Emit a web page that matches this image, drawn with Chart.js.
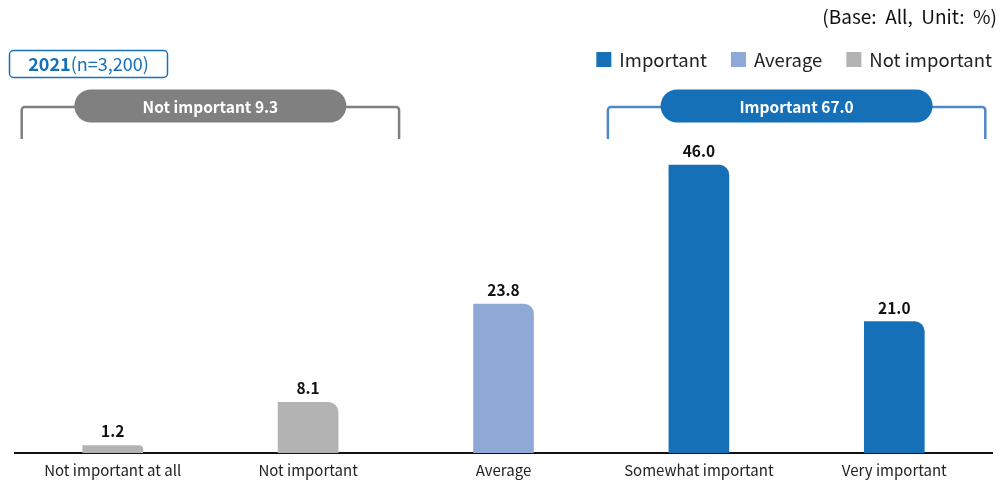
<!DOCTYPE html>
<html>
<head>
<meta charset="utf-8">
<script src="https://cdn.jsdelivr.net/npm/chart.js@4/dist/chart.umd.min.js"></script>
<style>
  html, body { margin: 0; padding: 0; background: #fff; }
  #wrap { position: relative; width: 1005px; height: 499px; }
</style>
</head>
<body>
<div id="wrap"><canvas id="c" width="1005" height="499"></canvas></div>
<script>
// Response categories and shares (%)
const categories = ['Not important at all', 'Not important', 'Average', 'Somewhat important', 'Very important'];
const shares = [1.2, 8.1, 23.8, 46.0, 21.0];
// Which group each category belongs to
const groups = ['Not important', 'Not important', 'Average', 'Important', 'Important'];
const legendLabels = ['Important', 'Average', 'Not important'];
const surveyYear = '2021';
const sampleNote = '(n=3,200)';
const baseNote = '(Base:  All,  Unit:  %)';

const FONT = '"Noto Sans CJK KR", "Noto Sans", sans-serif';
const groupColors = {
  'Important': '#1570B8',
  'Average': '#8FA9D6',
  'Not important': '#B3B3B3'
};
const bracketStyle = {
  'Not important': { pill: '#808080', line: '#808080' },
  'Important': { pill: '#1570B8', line: '#4F88C6' }
};

function sumGroup(name) {
  let s = 0;
  shares.forEach((v, i) => { if (groups[i] === name) s += v; });
  return Math.round(s * 10) / 10;
}

function roundRect(ctx, x, y, w, h, r) {
  ctx.beginPath();
  ctx.moveTo(x + r, y);
  ctx.lineTo(x + w - r, y);
  ctx.arcTo(x + w, y, x + w, y + r, r);
  ctx.lineTo(x + w, y + h - r);
  ctx.arcTo(x + w, y + h, x + w - r, y + h, r);
  ctx.lineTo(x + r, y + h);
  ctx.arcTo(x, y + h, x, y + h - r, r);
  ctx.lineTo(x, y + r);
  ctx.arcTo(x, y, x + r, y, r);
  ctx.closePath();
}

const decorations = {
  id: 'decorations',
  afterDatasetsDraw(chart) {
    const ctx = chart.ctx;
    const ys = chart.scales.y;
    const meta = chart.getDatasetMeta(0);
    ctx.save();

    // value labels above bars
    ctx.fillStyle = '#111';
    ctx.font = 'bold 15.5px ' + FONT;
    ctx.textAlign = 'center';
    ctx.textBaseline = 'alphabetic';
    meta.data.forEach((bar, i) => {
      ctx.fillText(shares[i].toFixed(1), bar.x, bar.y - 8);
    });

    // group brackets with pill labels
    ['Not important', 'Important'].forEach(name => {
      const idx = groups.map((g, i) => g === name ? i : -1).filter(i => i >= 0);
      const first = meta.data[idx[0]], last = meta.data[idx[idx.length - 1]];
      const x0 = first.x - first.width / 2 - 61;
      const x1 = last.x + last.width / 2 + 61;
      const yLine = 107, yBottom = 139;
      const st = bracketStyle[name];
      ctx.strokeStyle = st.line;
      ctx.lineWidth = 2.5;
      ctx.beginPath();
      ctx.moveTo(x0, yBottom);
      ctx.arcTo(x0, yLine, x0 + 4, yLine, 3);
      ctx.lineTo(x1 - 4, yLine);
      ctx.arcTo(x1, yLine, x1, yLine + 4, 3);
      ctx.lineTo(x1, yBottom);
      ctx.stroke();

      const cx = (x0 + x1) / 2;
      const pw = 272, ph = 33;
      roundRect(ctx, cx - pw / 2, yLine - ph / 2 - 1, pw, ph, ph / 2);
      ctx.fillStyle = st.pill;
      ctx.fill();
      ctx.fillStyle = '#fff';
      ctx.font = 'bold 15.5px ' + FONT;
      ctx.textAlign = 'center';
      ctx.textBaseline = 'middle';
      ctx.fillText(name + ' ' + sumGroup(name).toFixed(1), cx, yLine);
    });

    // year / sample box
    roundRect(ctx, 9.5, 50.5, 158, 27, 4);
    ctx.strokeStyle = '#1570B8';
    ctx.lineWidth = 1.5;
    ctx.stroke();
    ctx.textBaseline = 'middle';
    ctx.textAlign = 'left';
    ctx.font = 'bold 18px ' + FONT;
    const w1 = ctx.measureText(surveyYear).width;
    ctx.font = '18px ' + FONT;
    const w2 = ctx.measureText(sampleNote).width;
    const tx = 88.5 - (w1 + w2) / 2;
    ctx.fillStyle = '#1570B8';
    ctx.font = 'bold 18px ' + FONT;
    ctx.fillText(surveyYear, tx, 64.5);
    ctx.font = '18px ' + FONT;
    ctx.fillText(sampleNote, tx + w1, 64.5);

    // base / unit note
    ctx.fillStyle = '#111';
    ctx.textAlign = 'right';
    ctx.font = '19px ' + FONT;
    ctx.fillText(baseNote, 997, 17);

    // legend
    ctx.font = '18.5px ' + FONT;
    ctx.textAlign = 'left';
    const items = legendLabels.map(l => ({ l, w: ctx.measureText(l).width }));
    const gap = 24, box = 15, boxGap = 8;
    const total = items.reduce((a, it) => a + box + boxGap + it.w, 0) + gap * (items.length - 1);
    let lx = 992 - total;
    items.forEach(it => {
      ctx.fillStyle = groupColors[it.l];
      ctx.fillRect(lx, 52, box, box);
      ctx.fillStyle = '#222';
      ctx.fillText(it.l, lx + box + boxGap, 60);
      lx += box + boxGap + it.w + gap;
    });

    ctx.restore();
  }
};

new Chart(document.getElementById('c'), {
  type: 'bar',
  data: {
    labels: categories,
    datasets: [{
      data: shares,
      backgroundColor: groups.map(g => groupColors[g]),
      barThickness: 60,
      borderRadius: { topLeft: 0, topRight: 10, bottomLeft: 0, bottomRight: 0 },
      borderSkipped: 'start'
    }]
  },
  options: {
    responsive: false,
    animation: false,
    devicePixelRatio: 1,
    layout: { padding: { top: 140, left: 15, right: 13, bottom: 12 } },
    plugins: { legend: { display: false }, tooltip: { enabled: false } },
    scales: {
      x: {
        grid: { display: false, drawTicks: false },
        border: { display: true, color: '#111', width: 2 },
        ticks: { color: '#222', font: { family: FONT, size: 15 }, padding: 8, maxRotation: 0 }
      },
      y: {
        display: false,
        min: 0,
        max: 50
      }
    }
  },
  plugins: [decorations]
});
</script>
</body>
</html>
